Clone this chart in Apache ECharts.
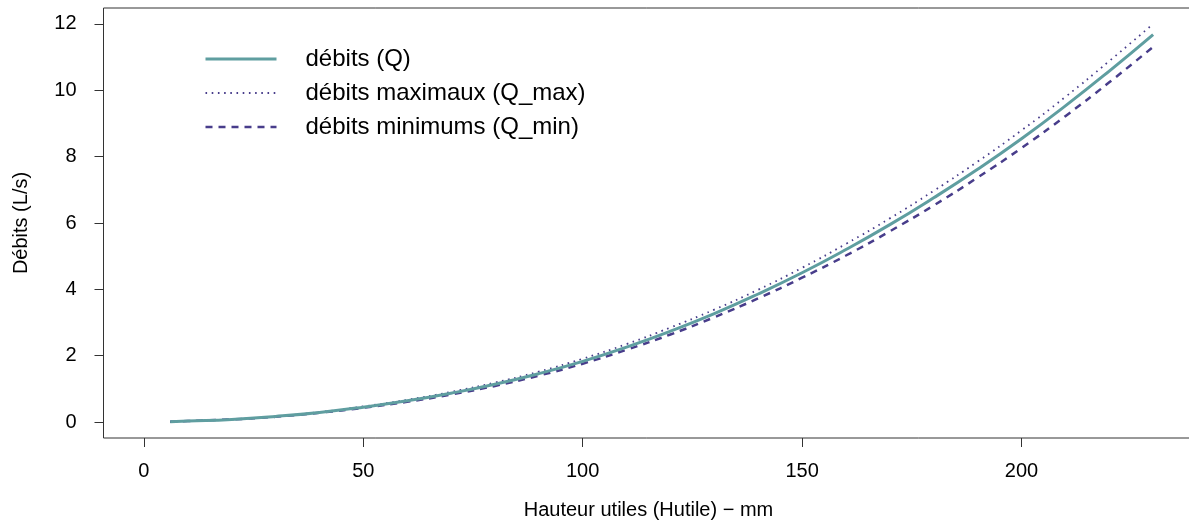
<!DOCTYPE html>
<html>
<head>
<meta charset="utf-8">
<script src="https://cdn.jsdelivr.net/npm/echarts@6/dist/echarts.min.js"></script>
<style>
html,body{margin:0;padding:0;background:#fff;}
#chart{width:1189px;height:522px;}
</style>
</head>
<body>
<div id="chart"></div>
<script>
// Hauteur utile (mm)
var hauteur = [6, 10, 20, 30, 40, 50, 60, 70, 80, 90, 100, 110, 120, 130, 140, 150, 160, 170, 180, 190, 200, 210, 220, 230];
// débits (Q), L/s
var debitQ = [0.01, 0.03, 0.08, 0.17, 0.29, 0.45, 0.64, 0.87, 1.14, 1.46, 1.83, 2.26, 2.74, 3.27, 3.86, 4.50, 5.20, 5.95, 6.76, 7.62, 8.54, 9.53, 10.58, 11.68];
// débits maximaux (Q_max)
var debitQmax = [0.01, 0.03, 0.08, 0.17, 0.30, 0.47, 0.67, 0.91, 1.19, 1.52, 1.91, 2.35, 2.85, 3.39, 3.99, 4.65, 5.37, 6.14, 6.97, 7.85, 8.79, 9.80, 10.88, 12.00];
// débits minimums (Q_min)
var debitQmin = [0.01, 0.03, 0.08, 0.16, 0.28, 0.43, 0.61, 0.83, 1.09, 1.40, 1.76, 2.18, 2.64, 3.16, 3.73, 4.35, 5.02, 5.75, 6.53, 7.37, 8.26, 9.22, 10.24, 11.31];
// tick labels
var xTicks = [0, 50, 100, 150, 200];
var yTicks = [0, 2, 4, 6, 8, 10, 12];
var seriesNames = ['débits (Q)', 'débits maximaux (Q_max)', 'débits minimums (Q_min)'];
var xTitle = 'Hauteur utiles (Hutile) − mm';
var yTitle = 'Débits (L/s)';

function pairs(ys) { return hauteur.map(function (h, i) { return [h, ys[i]]; }); }

var FONT = '"Liberation Sans", Arial, sans-serif';
var TEAL = '#5F9EA0', PURPLE = '#483D8B';
var chart = echarts.init(document.getElementById('chart'), null, { renderer: 'canvas' });
chart.setOption({
  animation: false,
  backgroundColor: '#ffffff',
  textStyle: { fontFamily: FONT, color: '#000' },
  grid: {
    left: 103.5, top: 8, width: 1090, height: 430,
    outerBoundsMode: 'none', containLabel: false,
    show: true, borderColor: '#333', borderWidth: 1, backgroundColor: 'transparent'
  },
  legend: {
    orient: 'vertical', left: 199, top: 42,
    itemWidth: 71, itemHeight: 2, itemGap: 10,
    itemStyle: { opacity: 0 },
    textStyle: { fontFamily: FONT, fontSize: 24, color: '#000', lineHeight: 24, padding: [0, 0, 0, 24] },
    data: [
      { name: seriesNames[0], lineStyle: { width: 3 } },
      { name: seriesNames[1], lineStyle: { width: 1.8 } },
      { name: seriesNames[2], lineStyle: { width: 2.5 } }
    ]
  },
  xAxis: {
    type: 'value', min: -9.2, max: 239.2,
    name: xTitle, nameLocation: 'middle', nameGap: 62,
    nameTextStyle: { fontFamily: FONT, fontSize: 20, color: '#000' },
    splitLine: { show: false },
    axisLine: { show: false, onZero: false },
    axisTick: { show: true, customValues: xTicks, length: 9, lineStyle: { color: '#333', width: 1 } },
    axisLabel: { customValues: xTicks, fontFamily: FONT, fontSize: 20, color: '#000', margin: 23 }
  },
  yAxis: {
    type: 'value', min: -0.48, max: 12.48,
    name: yTitle, nameLocation: 'middle', nameGap: 72, nameRotate: 90,
    nameTextStyle: { fontFamily: FONT, fontSize: 20, color: '#000' },
    splitLine: { show: false },
    axisLine: { show: false, onZero: false },
    axisTick: { show: true, customValues: yTicks, length: 9, lineStyle: { color: '#333', width: 1 } },
    axisLabel: { customValues: yTicks, fontFamily: FONT, fontSize: 20, color: '#000', margin: 27 }
  },
  series: [
    {
      name: seriesNames[0], type: 'line', data: pairs(debitQ), symbol: 'none', smooth: true,
      lineStyle: { color: TEAL, width: 3, type: 'solid' }, itemStyle: { color: TEAL }, z: 3
    },
    {
      name: seriesNames[1], type: 'line', data: pairs(debitQmax), symbol: 'none', smooth: true,
      lineStyle: { color: PURPLE, width: 1.8, type: [1.6, 4.6] }, itemStyle: { color: PURPLE }, z: 2
    },
    {
      name: seriesNames[2], type: 'line', data: pairs(debitQmin), symbol: 'none', smooth: true,
      lineStyle: { color: PURPLE, width: 2.5, type: [7, 6] }, itemStyle: { color: PURPLE }, z: 2
    }
  ]
});
</script>
</body>
</html>
